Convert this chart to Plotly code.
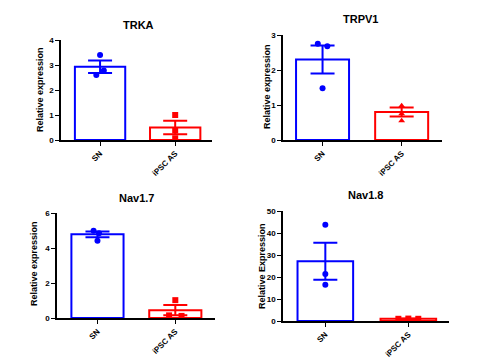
import plotly.graph_objects as go

PAGE_W, PAGE_H = 488, 362
OFFX, OFFY = 0, 8  # page offset of the figure
W, H = PAGE_W, PAGE_H - OFFY
categories = ["SN", "iPSC AS"]

titles = ["TRKA", "TRPV1", "Nav1.7", "Nav1.8"]
ytitles = ["Relative expression", "Relative expression", "Relative expression", "Relative Expression"]

means = [[2.93, 0.50], [2.30, 0.80], [4.78, 0.45], [27.2, 1.0]]
sems = [[0.25, 0.27], [0.40, 0.13], [0.17, 0.29], [8.4, 0.1]]
sn_points = [[3.40, 2.60, 2.78], [2.75, 2.68, 1.48], [4.98, 4.85, 4.42], [43.7, 21.4, 16.5]]
ipsc_points = [[1.00, 0.38, 0.07], [0.98, 0.75, 0.55], [1.02, 0.12, 0.15], [1.0, 1.1, 1.0]]
ipsc_symbols = ["square", "triangle-up", "square", "square"]
jitter = [[0.0, -0.05, 0.05], [-0.06, 0.06, 0.0], [-0.05, 0.02, 0.0], [0.0, 0.0, 0.0]]
jitter_ipsc = [[0.0, 0.0, 0.0], [0.0, 0.0, 0.0], [0.0, 0.08, -0.08], [-0.12, 0.0, 0.12]]

yranges = [(0, 4), (0, 3), (0, 6), (0, 50)]
ydticks = [1, 1, 2, 10]

# layout in page pixels: (x_left, x_right, y_top, y_bottom)
boxes = [(53, 204, 40, 140), (275, 434, 35, 140), (49, 207, 213, 318), (275, 441, 211, 321)]
xranges = [(-0.52, 1.49), (-0.5, 1.51), (-0.52, 1.51), (-0.51, 1.49)]
title_pos = [(130, 25), (352, 19), (128, 198), (357, 195)]
ytitle_pos = [(32, 90), (259, 87), (26, 264), (254, 266)]


def px(x):
    return (x - OFFX) / W


def py(y):
    return 1 - (y - OFFY) / H


BLUE = "#0000ff"
RED = "#ff0000"
FONT = "Liberation Sans, Arial, sans-serif"

fig = go.Figure()
annotations = []
for i in range(4):
    s = "" if i == 0 else str(i + 1)
    xa, ya = "x" + s, "y" + s
    fig.add_trace(go.Bar(
        x=[0, 1], y=means[i], width=0.67, xaxis=xa, yaxis=ya,
        marker=dict(color="white", line=dict(color=[BLUE, RED], width=2)),
        showlegend=False, hoverinfo="skip"))
    for k, col in enumerate([BLUE, RED]):
        fig.add_trace(go.Scatter(
            x=[k], y=[means[i][k]], mode="markers", marker=dict(size=0.1, color=col),
            xaxis=xa, yaxis=ya,
            error_y=dict(type="data", array=[sems[i][k]], visible=True, thickness=2, width=12, color=col),
            showlegend=False, hoverinfo="skip"))
    fig.add_trace(go.Scatter(
        x=[0 + j for j in jitter[i]], y=sn_points[i], mode="markers", xaxis=xa, yaxis=ya,
        marker=dict(color=BLUE, size=6, symbol="circle"), showlegend=False))
    fig.add_trace(go.Scatter(
        x=[1 + j for j in jitter_ipsc[i]], y=ipsc_points[i], mode="markers", xaxis=xa, yaxis=ya,
        marker=dict(color=RED, size=6, symbol=ipsc_symbols[i]), showlegend=False))

    xl, xr, yt, yb = boxes[i]
    fig.layout["xaxis" + s] = dict(
        domain=[px(xl), px(xr)], range=list(xranges[i]), anchor=ya, automargin=False,
        tickvals=[0, 1], ticktext=categories, tickangle=-45,
        showline=True, linecolor="black", linewidth=1.5, ticks="outside", ticklen=4,
        tickcolor="black", showgrid=False, zeroline=False,
        tickfont=dict(family=FONT, size=8, color="black", weight="bold"))
    fig.layout["yaxis" + s] = dict(
        domain=[py(yb), py(yt)], range=list(yranges[i]), anchor=xa, automargin=False,
        dtick=ydticks[i], showline=True, linecolor="black", linewidth=1.5,
        ticks="outside", ticklen=4, tickcolor="black", showgrid=False, zeroline=False,
        tickfont=dict(family=FONT, size=8, color="black", weight="bold"))
    tx, ty = title_pos[i]
    annotations.append(dict(text="<b>" + titles[i] + "</b>", x=px(tx), y=py(ty),
                            xref="paper", yref="paper", showarrow=False,
                            xanchor="center", yanchor="middle",
                            font=dict(family=FONT, size=11, color="black")))
    yx, yy = ytitle_pos[i]
    annotations.append(dict(text="<b>" + ytitles[i] + "</b>", x=px(yx), y=py(yy), textangle=-90,
                            xref="paper", yref="paper", showarrow=False,
                            xanchor="center", yanchor="middle",
                            font=dict(family=FONT, size=9, color="black")))

fig.update_layout(width=W, height=H, margin=dict(l=0, r=0, t=0, b=0),
                  paper_bgcolor="white", plot_bgcolor="white",
                  annotations=annotations, barmode="overlay")
fig.write_html("out.html")
